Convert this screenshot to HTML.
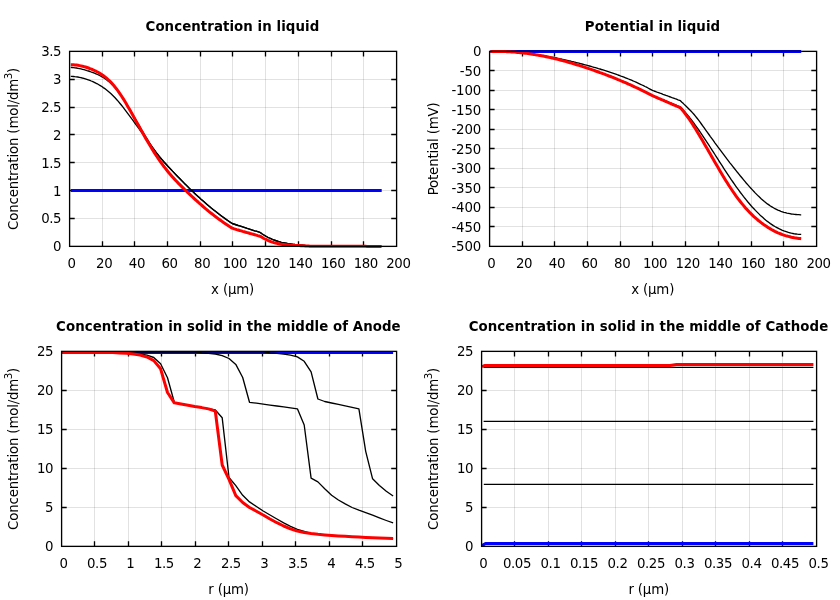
<!DOCTYPE html>
<html><head><meta charset="utf-8"><title>Battery simulation plots</title>
<style>
html,body{margin:0;padding:0;background:#fff;}
svg{display:block;}
text{font-family:"DejaVu Sans","Liberation Sans",sans-serif;font-size:13.33px;fill:#000;}
.t{letter-spacing:-0.4px;}
.n{letter-spacing:-0.15px;}
.l{letter-spacing:-0.16px;}
.b{font-weight:bold;letter-spacing:0.075px;}
</style></head><body>
<svg width="840" height="600" viewBox="0 0 840 600">
<rect x="0" y="0" width="840" height="600" fill="#fff"/>
<path d="M102.5 51.4 V246.4 M134.5 51.4 V246.4 M167.5 51.4 V246.4 M200.5 51.4 V246.4 M232.5 51.4 V246.4 M265.5 51.4 V246.4 M298.5 51.4 V246.4 M331.5 51.4 V246.4 M363.5 51.4 V246.4" stroke="rgba(38,38,38,0.135)" stroke-width="1" fill="none"/>
<path d="M69.5 218.5 H396.4 M69.5 190.5 H396.4 M69.5 162.5 H396.4 M69.5 134.5 H396.4 M69.5 107.5 H396.4 M69.5 79.5 H396.4" stroke="rgba(38,38,38,0.135)" stroke-width="1" fill="none"/>
<path d="M102.5 246.4 v-5.2 M102.5 51.4 v5.2 M134.5 246.4 v-5.2 M134.5 51.4 v5.2 M167.5 246.4 v-5.2 M167.5 51.4 v5.2 M200.5 246.4 v-5.2 M200.5 51.4 v5.2 M232.5 246.4 v-5.2 M232.5 51.4 v5.2 M265.5 246.4 v-5.2 M265.5 51.4 v5.2 M298.5 246.4 v-5.2 M298.5 51.4 v5.2 M331.5 246.4 v-5.2 M331.5 51.4 v5.2 M363.5 246.4 v-5.2 M363.5 51.4 v5.2 M69.5 218.5 h5.2 M396.4 218.5 h-5.2 M69.5 190.5 h5.2 M396.4 190.5 h-5.2 M69.5 162.5 h5.2 M396.4 162.5 h-5.2 M69.5 134.5 h5.2 M396.4 134.5 h-5.2 M69.5 107.5 h5.2 M396.4 107.5 h-5.2 M69.5 79.5 h5.2 M396.4 79.5 h-5.2" stroke="#000" stroke-width="1.33" fill="none"/>
<path d="M70.8 190.4 L381.7 190.4" stroke="#0000ff" stroke-width="3" fill="none" stroke-linejoin="round"/>
<path d="M70.8 76.4 L71.8 76.4 L73.3 76.5 L74.8 76.7 L76.3 76.8 L77.8 77.0 L79.3 77.3 L80.8 77.6 L82.3 78.0 L83.8 78.3 L85.3 78.8 L86.8 79.3 L88.3 79.8 L89.8 80.3 L91.3 81.0 L92.8 81.6 L94.3 82.3 L95.8 83.1 L97.3 83.8 L98.8 84.7 L100.3 85.6 L101.8 86.5 L103.3 87.6 L104.8 88.6 L106.3 89.8 L107.8 91.0 L109.3 92.2 L110.8 93.6 L112.3 95.0 L113.8 96.5 L115.3 98.0 L116.8 99.7 L118.3 101.4 L119.8 103.2 L121.3 105.0 L122.8 106.9 L124.3 108.8 L125.8 110.8 L127.3 112.8 L128.8 114.8 L130.3 116.8 L131.8 118.9 L133.3 120.9 L134.8 123.0 L136.3 125.1 L137.8 127.2 L139.3 129.2 L140.8 131.3 L142.3 133.4 L143.8 135.5 L145.3 137.6 L146.8 139.7 L148.3 141.8 L149.8 143.9 L151.3 146.0 L152.8 148.0 L154.3 150.0 L155.8 151.9 L157.3 153.8 L158.8 155.6 L160.3 157.4 L161.8 159.2 L163.3 160.9 L164.8 162.6 L166.3 164.3 L167.8 166.0 L169.3 167.6 L170.8 169.3 L172.3 170.9 L173.8 172.5 L175.3 174.1 L176.8 175.7 L178.3 177.3 L179.8 178.8 L181.3 180.3 L182.8 181.8 L184.3 183.4 L185.8 184.8 L187.3 186.3 L188.8 187.8 L190.3 189.2 L191.8 190.7 L193.3 192.1 L194.8 193.5 L196.3 194.9 L197.8 196.2 L199.3 197.6 L200.8 199.0 L202.3 200.3 L203.8 201.6 L205.3 202.9 L206.8 204.2 L208.3 205.5 L209.8 206.7 L211.3 208.0 L212.8 209.2 L214.3 210.4 L215.8 211.6 L217.3 212.8 L218.8 213.9 L220.3 215.1 L221.8 216.2 L223.3 217.3 L224.8 218.4 L226.3 219.5 L227.8 220.5 L229.3 221.6 L230.8 222.6 L232.2 223.5 L233.7 224.0 L235.2 224.5 L236.7 225.0 L238.2 225.5 L239.7 225.9 L241.2 226.4 L242.7 226.9 L244.2 227.4 L245.7 227.9 L247.2 228.4 L248.7 228.8 L250.2 229.3 L251.7 229.8 L253.2 230.3 L254.7 230.8 L256.2 231.2 L257.7 231.7 L259.2 232.2 L260.4 232.6 L261.9 233.7 L263.4 234.7 L264.9 235.6 L266.4 236.5 L267.9 237.3 L269.4 238.0 L270.9 238.7 L272.4 239.4 L273.9 240.0 L275.4 240.5 L276.9 241.0 L278.4 241.5 L279.9 241.9 L281.4 242.3 L282.9 242.6 L284.4 242.9 L285.9 243.2 L287.4 243.5 L288.9 243.7 L290.4 243.9 L291.9 244.1 L293.4 244.3 L294.9 244.5 L296.4 244.6 L297.9 244.8 L299.4 244.9 L300.9 245.1 L302.4 245.2 L303.9 245.3 L305.4 245.5 L306.9 245.6 L308.4 245.8 L309.9 245.9 L310.0 245.9 L311.5 245.9 L313.0 245.9 L314.5 246.0 L316.0 246.0 L317.5 246.0 L319.0 246.0 L320.5 246.0 L322.0 246.0 L323.5 246.0 L325.0 246.0 L326.5 246.0 L328.0 246.0 L329.5 246.1 L331.0 246.1 L332.5 246.1 L334.0 246.1 L335.5 246.1 L337.0 246.1 L338.5 246.1 L340.0 246.1 L341.5 246.1 L343.0 246.1 L344.5 246.2 L346.0 246.2 L347.5 246.2 L349.0 246.2 L350.5 246.2 L352.0 246.2 L353.5 246.2 L355.0 246.2 L356.5 246.2 L358.0 246.2 L359.5 246.3 L361.0 246.3 L362.5 246.3 L364.0 246.3 L365.5 246.3 L367.0 246.3 L368.5 246.3 L370.0 246.3 L371.5 246.3 L373.0 246.3 L374.5 246.4 L376.0 246.4 L377.5 246.4 L379.0 246.4 L380.5 246.4 L381.5 246.4" stroke="#000000" stroke-width="1.33" fill="none" stroke-linejoin="round"/>
<path d="M70.8 67.4 L72.0 67.5 L73.5 67.6 L75.0 67.8 L76.5 68.0 L78.0 68.3 L79.5 68.6 L81.0 68.9 L82.5 69.3 L84.0 69.7 L85.5 70.1 L87.0 70.6 L88.5 71.0 L90.0 71.5 L91.5 72.1 L93.0 72.6 L94.5 73.2 L96.0 73.8 L97.5 74.5 L99.0 75.2 L100.5 76.0 L102.0 76.8 L103.5 77.7 L105.0 78.7 L106.5 79.7 L108.0 80.9 L109.5 82.1 L111.0 83.5 L112.5 84.9 L114.0 86.5 L115.5 88.2 L117.0 90.0 L118.5 92.0 L120.0 94.0 L121.5 96.2 L123.0 98.4 L124.5 100.8 L126.0 103.1 L127.5 105.6 L129.0 108.1 L130.5 110.7 L132.0 113.2 L133.5 115.8 L135.0 118.4 L136.5 121.0 L138.0 123.6 L139.5 126.2 L141.0 128.8 L142.5 131.3 L144.0 133.8 L145.5 136.3 L147.0 138.7 L148.5 141.1 L150.0 143.5 L151.5 145.8 L153.0 148.0 L154.5 150.2 L156.0 152.3 L157.5 154.3 L159.0 156.3 L160.5 158.2 L162.0 159.9 L163.5 161.7 L165.0 163.3 L166.5 164.9 L168.0 166.5 L169.5 168.0 L171.0 169.5 L172.5 171.1 L174.0 172.6 L175.5 174.2 L177.0 175.7 L178.5 177.3 L180.0 178.8 L181.5 180.4 L183.0 181.9 L184.5 183.4 L186.0 184.9 L187.5 186.4 L189.0 187.9 L190.5 189.4 L192.0 190.8 L193.5 192.2 L195.0 193.7 L196.5 195.1 L198.0 196.4 L199.5 197.8 L201.0 199.2 L202.5 200.5 L204.0 201.8 L205.5 203.1 L207.0 204.4 L208.5 205.7 L210.0 206.9 L211.5 208.2 L213.0 209.4 L214.5 210.6 L216.0 211.8 L217.5 212.9 L219.0 214.1 L220.5 215.2 L222.0 216.4 L223.5 217.5 L225.0 218.6 L226.5 219.6 L228.0 220.7 L229.5 221.7 L231.0 222.7 L232.2 223.5 L233.7 224.0 L235.2 224.5 L236.7 225.0 L238.2 225.5 L239.7 225.9 L241.2 226.4 L242.7 226.9 L244.2 227.4 L245.7 227.9 L247.2 228.4 L248.7 228.8 L250.2 229.3 L251.7 229.8 L253.2 230.3 L254.7 230.8 L256.2 231.2 L257.7 231.7 L259.2 232.2 L260.4 232.6 L261.9 233.7 L263.4 234.7 L264.9 235.6 L266.4 236.5 L267.9 237.3 L269.4 238.0 L270.9 238.7 L272.4 239.4 L273.9 240.0 L275.4 240.5 L276.9 241.0 L278.4 241.5 L279.9 241.9 L281.4 242.3 L282.9 242.6 L284.4 242.9 L285.9 243.2 L287.4 243.5 L288.9 243.7 L290.4 243.9 L291.9 244.1 L293.4 244.3 L294.9 244.5 L296.4 244.6 L297.9 244.8 L299.4 244.9 L300.9 245.1 L302.4 245.2 L303.9 245.3 L305.4 245.5 L306.9 245.6 L308.4 245.8 L309.9 245.9 L310.0 245.9 L311.5 245.9 L313.0 245.9 L314.5 246.0 L316.0 246.0 L317.5 246.0 L319.0 246.0 L320.5 246.0 L322.0 246.0 L323.5 246.0 L325.0 246.0 L326.5 246.0 L328.0 246.0 L329.5 246.1 L331.0 246.1 L332.5 246.1 L334.0 246.1 L335.5 246.1 L337.0 246.1 L338.5 246.1 L340.0 246.1 L341.5 246.1 L343.0 246.1 L344.5 246.2 L346.0 246.2 L347.5 246.2 L349.0 246.2 L350.5 246.2 L352.0 246.2 L353.5 246.2 L355.0 246.2 L356.5 246.2 L358.0 246.2 L359.5 246.3 L361.0 246.3 L362.5 246.3 L364.0 246.3 L365.5 246.3 L367.0 246.3 L368.5 246.3 L370.0 246.3 L371.5 246.3 L373.0 246.3 L374.5 246.4 L376.0 246.4 L377.5 246.4 L379.0 246.4 L380.5 246.4 L381.5 246.4" stroke="#000000" stroke-width="1.33" fill="none" stroke-linejoin="round"/>
<path d="M70.8 64.7 L72.0 64.7 L73.5 64.8 L75.0 64.9 L76.5 65.1 L78.0 65.3 L79.5 65.6 L81.0 65.9 L82.5 66.2 L84.0 66.6 L85.5 67.0 L87.0 67.5 L88.5 68.0 L90.0 68.6 L91.5 69.1 L93.0 69.8 L94.5 70.5 L96.0 71.2 L97.5 72.0 L99.0 72.8 L100.5 73.7 L102.0 74.7 L103.5 75.8 L105.0 76.9 L106.5 78.1 L108.0 79.5 L109.5 80.9 L111.0 82.4 L112.5 84.0 L114.0 85.7 L115.5 87.6 L117.0 89.5 L118.5 91.6 L120.0 93.8 L121.5 96.0 L123.0 98.4 L124.5 100.8 L126.0 103.3 L127.5 105.9 L129.0 108.5 L130.5 111.1 L132.0 113.8 L133.5 116.5 L135.0 119.2 L136.5 121.9 L138.0 124.6 L139.5 127.3 L141.0 129.9 L142.5 132.6 L144.0 135.2 L145.5 137.9 L147.0 140.5 L148.5 143.0 L150.0 145.5 L151.5 148.0 L153.0 150.5 L154.5 152.9 L156.0 155.2 L157.5 157.5 L159.0 159.7 L160.5 161.8 L162.0 163.9 L163.5 166.0 L165.0 167.9 L166.5 169.8 L168.0 171.7 L169.5 173.5 L171.0 175.2 L172.5 176.9 L174.0 178.6 L175.5 180.2 L177.0 181.8 L178.5 183.4 L180.0 184.9 L181.5 186.4 L183.0 187.9 L184.5 189.4 L186.0 190.8 L187.5 192.3 L189.0 193.7 L190.5 195.1 L192.0 196.5 L193.5 197.9 L195.0 199.3 L196.5 200.7 L198.0 202.0 L199.5 203.4 L201.0 204.7 L202.5 206.0 L204.0 207.3 L205.5 208.6 L207.0 209.8 L208.5 211.1 L210.0 212.3 L211.5 213.5 L213.0 214.7 L214.5 215.9 L216.0 217.0 L217.5 218.1 L219.0 219.2 L220.5 220.3 L222.0 221.4 L223.5 222.5 L225.0 223.5 L226.5 224.5 L228.0 225.5 L229.5 226.5 L231.0 227.4 L232.2 228.2 L233.7 228.7 L235.2 229.1 L236.7 229.6 L238.2 230.0 L239.7 230.5 L241.2 230.9 L242.7 231.4 L244.2 231.8 L245.7 232.2 L247.2 232.6 L248.7 233.0 L250.2 233.5 L251.7 233.9 L253.2 234.3 L254.7 234.7 L256.2 235.1 L257.7 235.6 L259.2 236.0 L260.4 236.4 L261.9 237.3 L263.4 238.2 L264.9 239.0 L266.4 239.7 L267.9 240.4 L269.4 241.0 L270.9 241.6 L272.4 242.1 L273.9 242.6 L275.4 243.0 L276.9 243.3 L278.4 243.7 L279.9 244.0 L281.4 244.2 L282.9 244.5 L284.4 244.7 L285.9 244.8 L287.4 245.0 L288.9 245.1 L290.4 245.2 L291.9 245.3 L293.4 245.4 L294.9 245.4 L296.4 245.5 L297.9 245.6 L299.4 245.6 L300.9 245.7 L302.4 245.7 L303.9 245.8 L305.4 245.9 L306.9 245.9 L308.4 246.0 L309.9 246.2 L310.0 246.2 L311.5 246.2 L313.0 246.2 L314.5 246.2 L316.0 246.2 L317.5 246.2 L319.0 246.2 L320.5 246.2 L322.0 246.2 L323.5 246.2 L325.0 246.2 L326.5 246.2 L328.0 246.2 L329.5 246.2 L331.0 246.2 L332.5 246.2 L334.0 246.2 L335.5 246.2 L337.0 246.3 L338.5 246.3 L340.0 246.3 L341.5 246.3 L343.0 246.3 L344.5 246.3 L346.0 246.3 L347.5 246.3 L349.0 246.3 L350.5 246.3 L352.0 246.3 L353.5 246.3 L355.0 246.3 L356.5 246.3 L358.0 246.3 L359.5 246.3 L361.0 246.3 L362.5 246.3 L364.0 246.3 L365.5 246.3 L367.0 246.4 L368.5 246.4 L370.0 246.4 L371.5 246.4 L373.0 246.4 L374.5 246.4 L376.0 246.4 L377.5 246.4 L379.0 246.4 L380.5 246.4 L381.5 246.4" stroke="#ff0000" stroke-width="3" fill="none" stroke-linejoin="round"/>
<rect x="69.60" y="51.37" width="327.00" height="195.00" stroke="#000" stroke-width="1.33" fill="none"/>
<text class="t" x="71.5" y="267.7" text-anchor="middle">0</text>
<text class="t" x="104.2" y="267.7" text-anchor="middle">20</text>
<text class="t" x="136.9" y="267.7" text-anchor="middle">40</text>
<text class="t" x="169.6" y="267.7" text-anchor="middle">60</text>
<text class="t" x="202.2" y="267.7" text-anchor="middle">80</text>
<text class="t" x="234.9" y="267.7" text-anchor="middle">100</text>
<text class="t" x="267.6" y="267.7" text-anchor="middle">120</text>
<text class="t" x="300.4" y="267.7" text-anchor="middle">140</text>
<text class="t" x="333.1" y="267.7" text-anchor="middle">160</text>
<text class="t" x="365.8" y="267.7" text-anchor="middle">180</text>
<text class="t" x="398.4" y="267.7" text-anchor="middle">200</text>
<text class="t" x="61.2" y="251.3" text-anchor="end">0</text>
<text class="t" x="61.2" y="223.4" text-anchor="end">0.5</text>
<text class="t" x="61.2" y="195.6" text-anchor="end">1</text>
<text class="t" x="61.2" y="167.7" text-anchor="end">1.5</text>
<text class="t" x="61.2" y="139.8" text-anchor="end">2</text>
<text class="t" x="61.2" y="112.0" text-anchor="end">2.5</text>
<text class="t" x="61.2" y="84.1" text-anchor="end">3</text>
<text class="t" x="61.2" y="56.3" text-anchor="end">3.5</text>
<text x="232.4" y="30.9" text-anchor="middle" class="b">Concentration in liquid</text>
<text class="l" x="232.6" y="293.5" text-anchor="middle">x (µm)</text>
<text class="l" transform="translate(17.7 148.9) rotate(-90)" text-anchor="middle">Concentration (mol/dm<tspan dx="-0.5" dy="-5.8" font-size="10.3">3</tspan><tspan dy="5.8">)</tspan></text>
<path d="M522.5 51.4 V246.4 M554.5 51.4 V246.4 M587.5 51.4 V246.4 M620.5 51.4 V246.4 M652.5 51.4 V246.4 M685.5 51.4 V246.4 M718.5 51.4 V246.4 M751.5 51.4 V246.4 M783.5 51.4 V246.4" stroke="rgba(38,38,38,0.135)" stroke-width="1" fill="none"/>
<path d="M489.4 70.5 H816.5 M489.4 90.5 H816.5 M489.4 109.5 H816.5 M489.4 129.5 H816.5 M489.4 148.5 H816.5 M489.4 168.5 H816.5 M489.4 187.5 H816.5 M489.4 207.5 H816.5 M489.4 226.5 H816.5" stroke="rgba(38,38,38,0.135)" stroke-width="1" fill="none"/>
<path d="M522.5 246.4 v-5.2 M522.5 51.4 v5.2 M554.5 246.4 v-5.2 M554.5 51.4 v5.2 M587.5 246.4 v-5.2 M587.5 51.4 v5.2 M620.5 246.4 v-5.2 M620.5 51.4 v5.2 M652.5 246.4 v-5.2 M652.5 51.4 v5.2 M685.5 246.4 v-5.2 M685.5 51.4 v5.2 M718.5 246.4 v-5.2 M718.5 51.4 v5.2 M751.5 246.4 v-5.2 M751.5 51.4 v5.2 M783.5 246.4 v-5.2 M783.5 51.4 v5.2 M489.4 70.5 h5.2 M816.5 70.5 h-5.2 M489.4 90.5 h5.2 M816.5 90.5 h-5.2 M489.4 109.5 h5.2 M816.5 109.5 h-5.2 M489.4 129.5 h5.2 M816.5 129.5 h-5.2 M489.4 148.5 h5.2 M816.5 148.5 h-5.2 M489.4 168.5 h5.2 M816.5 168.5 h-5.2 M489.4 187.5 h5.2 M816.5 187.5 h-5.2 M489.4 207.5 h5.2 M816.5 207.5 h-5.2 M489.4 226.5 h5.2 M816.5 226.5 h-5.2" stroke="#000" stroke-width="1.33" fill="none"/>
<path d="M490.5 51.5 L801.2 51.5" stroke="#0000ff" stroke-width="3" fill="none" stroke-linejoin="round"/>
<path d="M490.5 51.6 L492.0 51.6 L493.5 51.5 L495.0 51.5 L496.5 51.5 L498.0 51.5 L499.5 51.5 L501.0 51.5 L502.5 51.6 L504.0 51.6 L505.5 51.6 L507.0 51.7 L508.5 51.8 L510.0 51.8 L511.5 51.9 L513.0 52.0 L514.5 52.1 L516.0 52.2 L517.5 52.3 L519.0 52.5 L520.5 52.6 L522.0 52.7 L523.5 52.9 L525.0 53.0 L526.5 53.2 L528.0 53.4 L529.5 53.6 L531.0 53.8 L532.5 53.9 L534.0 54.2 L535.5 54.4 L537.0 54.6 L538.5 54.8 L540.0 55.0 L541.5 55.3 L543.0 55.5 L544.5 55.8 L546.0 56.0 L547.5 56.3 L549.0 56.6 L550.5 56.9 L552.0 57.1 L553.5 57.4 L555.0 57.7 L556.5 58.0 L558.0 58.3 L559.5 58.7 L561.0 59.0 L562.5 59.3 L564.0 59.6 L565.5 60.0 L567.0 60.3 L568.5 60.7 L570.0 61.0 L571.5 61.4 L573.0 61.7 L574.5 62.1 L576.0 62.5 L577.5 62.8 L579.0 63.2 L580.5 63.6 L582.0 64.0 L583.5 64.4 L585.0 64.8 L586.5 65.2 L588.0 65.6 L589.5 66.0 L591.0 66.4 L592.5 66.9 L594.0 67.3 L595.5 67.7 L597.0 68.1 L598.5 68.6 L600.0 69.0 L601.5 69.5 L603.0 69.9 L604.5 70.4 L606.0 70.9 L607.5 71.4 L609.0 71.9 L610.5 72.4 L612.0 72.9 L613.5 73.4 L615.0 73.9 L616.5 74.4 L618.0 75.0 L619.5 75.5 L621.0 76.1 L622.5 76.6 L624.0 77.2 L625.5 77.8 L627.0 78.4 L628.5 79.0 L630.0 79.6 L631.5 80.2 L633.0 80.9 L634.5 81.5 L636.0 82.2 L637.5 82.9 L639.0 83.6 L640.5 84.3 L642.0 85.0 L643.5 85.7 L645.0 86.5 L646.5 87.2 L648.0 88.0 L649.5 88.8 L651.0 89.6 L652.5 90.4 L654.0 91.0 L655.5 91.5 L657.0 92.1 L658.5 92.6 L660.0 93.2 L661.5 93.7 L663.0 94.3 L664.5 94.8 L666.0 95.4 L667.5 95.9 L669.0 96.5 L670.5 97.0 L672.0 97.6 L673.5 98.1 L675.0 98.7 L676.5 99.2 L678.0 99.8 L679.5 100.3 L680.4 100.7 L681.9 102.2 L683.4 103.6 L684.9 105.1 L686.4 106.5 L687.9 108.0 L689.4 109.5 L690.9 111.0 L692.4 112.6 L693.9 114.3 L695.4 116.1 L696.9 118.0 L698.4 119.9 L699.9 121.9 L701.4 124.0 L702.9 126.1 L704.4 128.2 L705.9 130.3 L707.4 132.4 L708.9 134.5 L710.4 136.6 L711.9 138.6 L713.4 140.7 L714.9 142.8 L716.4 144.8 L717.9 146.9 L719.4 148.9 L720.9 150.9 L722.4 152.9 L723.9 154.9 L725.4 156.9 L726.9 158.9 L728.4 160.8 L729.9 162.8 L731.4 164.7 L732.9 166.6 L734.4 168.5 L735.9 170.4 L737.4 172.3 L738.9 174.1 L740.4 176.0 L741.9 177.8 L743.4 179.6 L744.9 181.4 L746.4 183.2 L747.9 184.9 L749.4 186.6 L750.9 188.3 L752.4 189.9 L753.9 191.5 L755.4 193.1 L756.9 194.6 L758.4 196.1 L759.9 197.5 L761.4 198.9 L762.9 200.2 L764.4 201.5 L765.9 202.7 L767.4 203.9 L768.9 204.9 L770.4 206.0 L771.9 206.9 L773.4 207.8 L774.9 208.7 L776.4 209.4 L777.9 210.1 L779.4 210.7 L780.9 211.3 L782.4 211.8 L783.9 212.3 L785.4 212.7 L786.9 213.1 L788.4 213.4 L789.9 213.7 L791.4 214.0 L792.9 214.2 L794.4 214.4 L795.9 214.5 L797.4 214.6 L798.9 214.7 L800.4 214.8 L801.2 214.8" stroke="#000000" stroke-width="1.33" fill="none" stroke-linejoin="round"/>
<path d="M490.5 51.6 L492.0 51.5 L493.5 51.5 L495.0 51.5 L496.5 51.5 L498.0 51.4 L499.5 51.4 L501.0 51.5 L502.5 51.5 L504.0 51.5 L505.5 51.6 L507.0 51.6 L508.5 51.7 L510.0 51.8 L511.5 51.9 L513.0 52.0 L514.5 52.1 L516.0 52.2 L517.5 52.3 L519.0 52.5 L520.5 52.6 L522.0 52.8 L523.5 53.0 L525.0 53.2 L526.5 53.4 L528.0 53.6 L529.5 53.8 L531.0 54.0 L532.5 54.2 L534.0 54.5 L535.5 54.7 L537.0 55.0 L538.5 55.2 L540.0 55.5 L541.5 55.8 L543.0 56.1 L544.5 56.4 L546.0 56.7 L547.5 57.0 L549.0 57.3 L550.5 57.7 L552.0 58.0 L553.5 58.4 L555.0 58.7 L556.5 59.1 L558.0 59.5 L559.5 59.8 L561.0 60.2 L562.5 60.6 L564.0 61.0 L565.5 61.4 L567.0 61.8 L568.5 62.3 L570.0 62.7 L571.5 63.1 L573.0 63.6 L574.5 64.0 L576.0 64.5 L577.5 64.9 L579.0 65.4 L580.5 65.9 L582.0 66.4 L583.5 66.9 L585.0 67.3 L586.5 67.8 L588.0 68.3 L589.5 68.9 L591.0 69.4 L592.5 69.9 L594.0 70.4 L595.5 70.9 L597.0 71.5 L598.5 72.0 L600.0 72.6 L601.5 73.1 L603.0 73.7 L604.5 74.2 L606.0 74.8 L607.5 75.4 L609.0 76.0 L610.5 76.6 L612.0 77.2 L613.5 77.8 L615.0 78.4 L616.5 79.0 L618.0 79.6 L619.5 80.2 L621.0 80.9 L622.5 81.5 L624.0 82.1 L625.5 82.8 L627.0 83.4 L628.5 84.1 L630.0 84.8 L631.5 85.4 L633.0 86.1 L634.5 86.8 L636.0 87.5 L637.5 88.2 L639.0 88.9 L640.5 89.6 L642.0 90.3 L643.5 91.0 L645.0 91.8 L646.5 92.5 L648.0 93.2 L649.5 94.0 L651.0 94.7 L652.5 95.5 L654.0 96.1 L655.5 96.7 L657.0 97.3 L658.5 98.0 L660.0 98.6 L661.5 99.2 L663.0 99.8 L664.5 100.4 L666.0 101.0 L667.5 101.6 L669.0 102.3 L670.5 102.9 L672.0 103.5 L673.5 104.1 L675.0 104.7 L676.5 105.3 L678.0 106.0 L679.5 106.6 L680.4 106.9 L681.9 108.5 L683.4 110.2 L684.9 111.9 L686.4 113.6 L687.9 115.5 L689.4 117.3 L690.9 119.2 L692.4 121.2 L693.9 123.2 L695.4 125.3 L696.9 127.4 L698.4 129.5 L699.9 131.7 L701.4 133.9 L702.9 136.1 L704.4 138.4 L705.9 140.6 L707.4 142.9 L708.9 145.2 L710.4 147.5 L711.9 149.9 L713.4 152.2 L714.9 154.5 L716.4 156.9 L717.9 159.2 L719.4 161.6 L720.9 163.9 L722.4 166.2 L723.9 168.6 L725.4 170.9 L726.9 173.1 L728.4 175.4 L729.9 177.6 L731.4 179.9 L732.9 182.0 L734.4 184.2 L735.9 186.3 L737.4 188.4 L738.9 190.4 L740.4 192.5 L741.9 194.4 L743.4 196.4 L744.9 198.3 L746.4 200.1 L747.9 202.0 L749.4 203.7 L750.9 205.5 L752.4 207.2 L753.9 208.8 L755.4 210.4 L756.9 211.9 L758.4 213.4 L759.9 214.9 L761.4 216.3 L762.9 217.6 L764.4 218.9 L765.9 220.2 L767.4 221.4 L768.9 222.5 L770.4 223.6 L771.9 224.6 L773.4 225.6 L774.9 226.5 L776.4 227.3 L777.9 228.1 L779.4 228.9 L780.9 229.6 L782.4 230.3 L783.9 230.9 L785.4 231.4 L786.9 231.9 L788.4 232.4 L789.9 232.8 L791.4 233.2 L792.9 233.5 L794.4 233.8 L795.9 234.0 L797.4 234.2 L798.9 234.3 L800.4 234.4 L801.2 234.4" stroke="#000000" stroke-width="1.33" fill="none" stroke-linejoin="round"/>
<path d="M490.5 51.6 L492.0 51.6 L493.5 51.5 L495.0 51.5 L496.5 51.5 L498.0 51.5 L499.5 51.5 L501.0 51.5 L502.5 51.5 L504.0 51.6 L505.5 51.6 L507.0 51.7 L508.5 51.8 L510.0 51.8 L511.5 51.9 L513.0 52.0 L514.5 52.1 L516.0 52.2 L517.5 52.4 L519.0 52.5 L520.5 52.7 L522.0 52.8 L523.5 53.0 L525.0 53.2 L526.5 53.3 L528.0 53.5 L529.5 53.8 L531.0 54.0 L532.5 54.2 L534.0 54.4 L535.5 54.7 L537.0 54.9 L538.5 55.2 L540.0 55.5 L541.5 55.8 L543.0 56.0 L544.5 56.3 L546.0 56.7 L547.5 57.0 L549.0 57.3 L550.5 57.6 L552.0 58.0 L553.5 58.3 L555.0 58.7 L556.5 59.1 L558.0 59.4 L559.5 59.8 L561.0 60.2 L562.5 60.6 L564.0 61.0 L565.5 61.4 L567.0 61.8 L568.5 62.3 L570.0 62.7 L571.5 63.1 L573.0 63.6 L574.5 64.0 L576.0 64.5 L577.5 65.0 L579.0 65.4 L580.5 65.9 L582.0 66.4 L583.5 66.9 L585.0 67.4 L586.5 67.9 L588.0 68.4 L589.5 68.9 L591.0 69.4 L592.5 69.9 L594.0 70.4 L595.5 71.0 L597.0 71.5 L598.5 72.0 L600.0 72.6 L601.5 73.1 L603.0 73.7 L604.5 74.2 L606.0 74.8 L607.5 75.4 L609.0 76.0 L610.5 76.5 L612.0 77.1 L613.5 77.7 L615.0 78.3 L616.5 78.9 L618.0 79.6 L619.5 80.2 L621.0 80.8 L622.5 81.5 L624.0 82.1 L625.5 82.7 L627.0 83.4 L628.5 84.1 L630.0 84.7 L631.5 85.4 L633.0 86.1 L634.5 86.8 L636.0 87.5 L637.5 88.2 L639.0 88.9 L640.5 89.6 L642.0 90.4 L643.5 91.1 L645.0 91.8 L646.5 92.6 L648.0 93.4 L649.5 94.1 L651.0 94.9 L652.5 95.7 L654.0 96.3 L655.5 97.0 L657.0 97.6 L658.5 98.3 L660.0 98.9 L661.5 99.6 L663.0 100.2 L664.5 100.9 L666.0 101.5 L667.5 102.2 L669.0 102.8 L670.5 103.5 L672.0 104.1 L673.5 104.8 L675.0 105.4 L676.5 106.1 L678.0 106.7 L679.5 107.4 L680.4 107.8 L681.9 109.5 L683.4 111.4 L684.9 113.3 L686.4 115.3 L687.9 117.4 L689.4 119.5 L690.9 121.7 L692.4 124.0 L693.9 126.4 L695.4 128.7 L696.9 131.2 L698.4 133.7 L699.9 136.2 L701.4 138.7 L702.9 141.3 L704.4 143.9 L705.9 146.5 L707.4 149.1 L708.9 151.7 L710.4 154.3 L711.9 157.0 L713.4 159.6 L714.9 162.2 L716.4 164.8 L717.9 167.3 L719.4 169.9 L720.9 172.4 L722.4 174.9 L723.9 177.4 L725.4 179.9 L726.9 182.3 L728.4 184.7 L729.9 187.0 L731.4 189.3 L732.9 191.5 L734.4 193.7 L735.9 195.8 L737.4 197.8 L738.9 199.8 L740.4 201.7 L741.9 203.6 L743.4 205.4 L744.9 207.2 L746.4 208.9 L747.9 210.5 L749.4 212.1 L750.9 213.6 L752.4 215.1 L753.9 216.6 L755.4 217.9 L756.9 219.2 L758.4 220.5 L759.9 221.7 L761.4 222.9 L762.9 224.0 L764.4 225.1 L765.9 226.1 L767.4 227.1 L768.9 228.0 L770.4 228.9 L771.9 229.8 L773.4 230.6 L774.9 231.4 L776.4 232.1 L777.9 232.8 L779.4 233.4 L780.9 234.0 L782.4 234.6 L783.9 235.1 L785.4 235.6 L786.9 236.0 L788.4 236.4 L789.9 236.8 L791.4 237.2 L792.9 237.5 L794.4 237.8 L795.9 238.0 L797.4 238.2 L798.9 238.4 L800.4 238.6 L801.2 238.7" stroke="#ff0000" stroke-width="3" fill="none" stroke-linejoin="round"/>
<rect x="489.60" y="51.37" width="327.00" height="195.00" stroke="#000" stroke-width="1.33" fill="none"/>
<text class="t" x="491.4" y="267.7" text-anchor="middle">0</text>
<text class="t" x="524.1" y="267.7" text-anchor="middle">20</text>
<text class="t" x="556.9" y="267.7" text-anchor="middle">40</text>
<text class="t" x="589.5" y="267.7" text-anchor="middle">60</text>
<text class="t" x="622.2" y="267.7" text-anchor="middle">80</text>
<text class="t" x="655.0" y="267.7" text-anchor="middle">100</text>
<text class="t" x="687.7" y="267.7" text-anchor="middle">120</text>
<text class="t" x="720.4" y="267.7" text-anchor="middle">140</text>
<text class="t" x="753.0" y="267.7" text-anchor="middle">160</text>
<text class="t" x="785.8" y="267.7" text-anchor="middle">180</text>
<text class="t" x="818.5" y="267.7" text-anchor="middle">200</text>
<text class="t" x="481.1" y="56.3" text-anchor="end">0</text>
<text class="n" x="481.1" y="75.8" text-anchor="end">-50</text>
<text class="n" x="481.1" y="95.3" text-anchor="end">-100</text>
<text class="n" x="481.1" y="114.8" text-anchor="end">-150</text>
<text class="n" x="481.1" y="134.3" text-anchor="end">-200</text>
<text class="n" x="481.1" y="153.8" text-anchor="end">-250</text>
<text class="n" x="481.1" y="173.3" text-anchor="end">-300</text>
<text class="n" x="481.1" y="192.8" text-anchor="end">-350</text>
<text class="n" x="481.1" y="212.3" text-anchor="end">-400</text>
<text class="n" x="481.1" y="231.8" text-anchor="end">-450</text>
<text class="n" x="481.1" y="251.3" text-anchor="end">-500</text>
<text x="652.5" y="30.9" text-anchor="middle" class="b">Potential in liquid</text>
<text class="l" x="652.7" y="293.5" text-anchor="middle">x (µm)</text>
<text class="l" transform="translate(437.7 148.9) rotate(-90)" text-anchor="middle">Potential (mV)</text>
<path d="M94.5 351.4 V546.4 M128.5 351.4 V546.4 M161.5 351.4 V546.4 M195.5 351.4 V546.4 M228.5 351.4 V546.4 M262.5 351.4 V546.4 M295.5 351.4 V546.4 M329.5 351.4 V546.4 M362.5 351.4 V546.4" stroke="rgba(38,38,38,0.135)" stroke-width="1" fill="none"/>
<path d="M61.5 507.5 H396.4 M61.5 468.5 H396.4 M61.5 429.5 H396.4 M61.5 390.5 H396.4" stroke="rgba(38,38,38,0.135)" stroke-width="1" fill="none"/>
<path d="M94.5 546.4 v-5.2 M94.5 351.4 v5.2 M128.5 546.4 v-5.2 M128.5 351.4 v5.2 M161.5 546.4 v-5.2 M161.5 351.4 v5.2 M195.5 546.4 v-5.2 M195.5 351.4 v5.2 M228.5 546.4 v-5.2 M228.5 351.4 v5.2 M262.5 546.4 v-5.2 M262.5 351.4 v5.2 M295.5 546.4 v-5.2 M295.5 351.4 v5.2 M329.5 546.4 v-5.2 M329.5 351.4 v5.2 M362.5 546.4 v-5.2 M362.5 351.4 v5.2 M61.5 507.5 h5.2 M396.4 507.5 h-5.2 M61.5 468.5 h5.2 M396.4 468.5 h-5.2 M61.5 429.5 h5.2 M396.4 429.5 h-5.2 M61.5 390.5 h5.2 M396.4 390.5 h-5.2" stroke="#000" stroke-width="1.33" fill="none"/>
<path d="M62.2 352.5 L393.1 352.5" stroke="#0000ff" stroke-width="3" fill="none" stroke-linejoin="round"/>
<path d="M62.2 351.9 L64.9 351.9 L71.8 351.9 L78.6 351.9 L85.4 351.9 L92.3 351.9 L99.1 351.9 L105.9 351.9 L112.8 351.9 L119.6 351.9 L126.5 351.9 L133.3 351.9 L140.1 351.9 L147.0 351.9 L153.8 351.9 L160.6 351.9 L167.5 351.9 L174.3 351.9 L181.1 351.9 L188.0 351.9 L194.8 351.9 L201.7 351.9 L208.5 351.9 L215.3 351.9 L222.2 351.9 L229.0 351.9 L235.8 351.9 L242.7 351.9 L249.5 351.9 L256.4 351.9 L263.2 351.9 L270.0 352.8 L276.9 353.4 L283.7 354.1 L290.5 355.1 L297.4 356.9 L304.2 361.3 L311.1 371.9 L317.9 399.0 L324.7 401.5 L331.6 403.0 L338.4 404.4 L345.2 405.9 L352.1 407.3 L358.9 408.8 L365.7 451.3 L372.6 478.8 L379.4 485.5 L386.3 491.3 L393.1 496.0" stroke="#000000" stroke-width="1.33" fill="none" stroke-linejoin="round"/>
<path d="M62.2 351.9 L64.9 351.9 L71.8 351.9 L78.6 351.9 L85.4 351.9 L92.3 351.9 L99.1 351.9 L105.9 351.9 L112.8 351.9 L119.6 351.9 L126.5 351.9 L133.3 351.9 L140.1 351.9 L147.0 351.9 L153.8 351.9 L160.6 351.9 L167.5 351.9 L174.3 351.9 L181.1 351.9 L188.0 351.9 L194.8 351.9 L201.7 352.8 L208.5 353.3 L215.3 354.0 L222.2 355.6 L229.0 358.5 L235.8 364.4 L242.7 377.5 L249.5 402.3 L256.4 403.2 L263.2 404.1 L270.0 405.1 L276.9 406.0 L283.7 406.9 L290.5 407.9 L297.4 408.8 L304.2 425.0 L311.1 478.1 L317.9 481.9 L324.7 488.8 L331.6 495.3 L338.4 500.0 L345.2 503.9 L352.1 507.5 L358.9 510.2 L365.7 512.7 L372.6 515.2 L379.4 517.9 L386.3 520.5 L393.1 522.9" stroke="#000000" stroke-width="1.33" fill="none" stroke-linejoin="round"/>
<path d="M62.2 351.9 L64.9 351.9 L71.8 351.9 L78.6 351.9 L85.4 351.9 L92.3 351.9 L99.1 351.9 L105.9 351.9 L112.8 351.9 L119.6 351.9 L126.5 351.9 L133.3 353.0 L140.1 353.8 L147.0 355.2 L153.8 357.5 L160.6 363.8 L167.5 377.8 L174.3 402.3 L181.1 404.0 L188.0 405.2 L194.8 406.5 L201.7 407.6 L208.5 408.7 L215.3 410.0 L222.2 417.8 L229.0 477.5 L235.8 485.6 L242.7 495.3 L249.5 501.9 L256.4 506.5 L263.2 511.0 L270.0 515.0 L276.9 519.0 L283.7 522.8 L290.5 526.3 L297.4 529.4 L304.2 531.5 L311.1 533.5 L317.9 534.3 L324.7 534.9 L331.6 535.4 L338.4 535.9 L345.2 536.3 L352.1 536.7 L358.9 537.1 L365.7 537.4 L372.6 537.7 L379.4 537.9 L386.3 538.2 L393.1 538.4" stroke="#000000" stroke-width="1.33" fill="none" stroke-linejoin="round"/>
<path d="M62.2 352.5 L64.9 352.5 L71.8 352.5 L78.6 352.5 L85.4 352.5 L92.3 352.5 L99.1 352.5 L105.9 352.5 L112.8 352.6 L119.6 352.9 L126.5 353.3 L133.3 354.0 L140.1 355.1 L147.0 357.0 L153.8 360.6 L160.6 368.8 L167.5 392.5 L174.3 402.8 L181.1 404.0 L188.0 405.2 L194.8 406.5 L201.7 407.6 L208.5 408.9 L215.3 411.2 L222.2 465.0 L229.0 479.4 L235.8 495.6 L242.7 502.5 L249.5 507.5 L256.4 511.3 L263.2 515.0 L270.0 519.0 L276.9 522.7 L283.7 526.0 L290.5 528.9 L297.4 531.1 L304.2 532.5 L311.1 533.5 L317.9 534.3 L324.7 534.9 L331.6 535.4 L338.4 535.9 L345.2 536.3 L352.1 536.7 L358.9 537.1 L365.7 537.4 L372.6 537.7 L379.4 537.9 L386.3 538.2 L393.1 538.4" stroke="#ff0000" stroke-width="3" fill="none" stroke-linejoin="round"/>
<rect x="61.60" y="351.37" width="335.00" height="195.00" stroke="#000" stroke-width="1.33" fill="none"/>
<text class="t" x="63.5" y="567.7" text-anchor="middle">0</text>
<text class="t" x="97.0" y="567.7" text-anchor="middle">0.5</text>
<text class="t" x="130.4" y="567.7" text-anchor="middle">1</text>
<text class="t" x="163.9" y="567.7" text-anchor="middle">1.5</text>
<text class="t" x="197.4" y="567.7" text-anchor="middle">2</text>
<text class="t" x="230.9" y="567.7" text-anchor="middle">2.5</text>
<text class="t" x="264.4" y="567.7" text-anchor="middle">3</text>
<text class="t" x="297.9" y="567.7" text-anchor="middle">3.5</text>
<text class="t" x="331.4" y="567.7" text-anchor="middle">4</text>
<text class="t" x="364.9" y="567.7" text-anchor="middle">4.5</text>
<text class="t" x="398.4" y="567.7" text-anchor="middle">5</text>
<text class="t" x="53.2" y="551.3" text-anchor="end">0</text>
<text class="t" x="53.2" y="512.3" text-anchor="end">5</text>
<text class="t" x="53.2" y="473.3" text-anchor="end">10</text>
<text class="t" x="53.2" y="434.3" text-anchor="end">15</text>
<text class="t" x="53.2" y="395.3" text-anchor="end">20</text>
<text class="t" x="53.2" y="356.3" text-anchor="end">25</text>
<text x="228.4" y="330.9" text-anchor="middle" class="b">Concentration in solid in the middle of Anode</text>
<text class="l" x="228.6" y="593.5" text-anchor="middle">r (µm)</text>
<text class="l" transform="translate(17.7 448.9) rotate(-90)" text-anchor="middle">Concentration (mol/dm<tspan dx="-0.5" dy="-5.8" font-size="10.3">3</tspan><tspan dy="5.8">)</tspan></text>
<path d="M514.5 351.4 V546.4 M548.5 351.4 V546.4 M581.5 351.4 V546.4 M615.5 351.4 V546.4 M648.5 351.4 V546.4 M682.5 351.4 V546.4 M715.5 351.4 V546.4 M749.5 351.4 V546.4 M782.5 351.4 V546.4" stroke="rgba(38,38,38,0.135)" stroke-width="1" fill="none"/>
<path d="M481.4 507.5 H816.5 M481.4 468.5 H816.5 M481.4 429.5 H816.5 M481.4 390.5 H816.5" stroke="rgba(38,38,38,0.135)" stroke-width="1" fill="none"/>
<path d="M514.5 546.4 v-5.2 M514.5 351.4 v5.2 M548.5 546.4 v-5.2 M548.5 351.4 v5.2 M581.5 546.4 v-5.2 M581.5 351.4 v5.2 M615.5 546.4 v-5.2 M615.5 351.4 v5.2 M648.5 546.4 v-5.2 M648.5 351.4 v5.2 M682.5 546.4 v-5.2 M682.5 351.4 v5.2 M715.5 546.4 v-5.2 M715.5 351.4 v5.2 M749.5 546.4 v-5.2 M749.5 351.4 v5.2 M782.5 546.4 v-5.2 M782.5 351.4 v5.2 M481.4 507.5 h5.2 M816.5 507.5 h-5.2 M481.4 468.5 h5.2 M816.5 468.5 h-5.2 M481.4 429.5 h5.2 M816.5 429.5 h-5.2 M481.4 390.5 h5.2 M816.5 390.5 h-5.2" stroke="#000" stroke-width="1.33" fill="none"/>
<path d="M482.0 545.6 L485.5 543.5 L813.4 543.5" stroke="#0000ff" stroke-width="3" fill="none" stroke-linejoin="round"/>
<path d="M483.8 484.4 L813.4 484.4" stroke="#000000" stroke-width="1.33" fill="none" stroke-linejoin="round"/>
<path d="M483.6 421.4 L813.4 421.4" stroke="#000000" stroke-width="1.33" fill="none" stroke-linejoin="round"/>
<path d="M483.6 367.4 L813.4 367.4" stroke="#000000" stroke-width="1.33" fill="none" stroke-linejoin="round"/>
<path d="M482.0 366.6 L485.0 365.4 L670.0 365.4 L676.5 364.5 L813.4 364.5" stroke="#ff0000" stroke-width="3" fill="none" stroke-linejoin="round"/>
<rect x="481.60" y="351.37" width="335.00" height="195.00" stroke="#000" stroke-width="1.33" fill="none"/>
<text class="t" x="483.4" y="567.7" text-anchor="middle">0</text>
<text class="t" x="517.0" y="567.7" text-anchor="middle">0.05</text>
<text class="t" x="550.5" y="567.7" text-anchor="middle">0.1</text>
<text class="t" x="584.0" y="567.7" text-anchor="middle">0.15</text>
<text class="t" x="617.5" y="567.7" text-anchor="middle">0.2</text>
<text class="t" x="651.0" y="567.7" text-anchor="middle">0.25</text>
<text class="t" x="684.5" y="567.7" text-anchor="middle">0.3</text>
<text class="t" x="718.0" y="567.7" text-anchor="middle">0.35</text>
<text class="t" x="751.5" y="567.7" text-anchor="middle">0.4</text>
<text class="t" x="785.0" y="567.7" text-anchor="middle">0.45</text>
<text class="t" x="818.5" y="567.7" text-anchor="middle">0.5</text>
<text class="t" x="473.1" y="551.3" text-anchor="end">0</text>
<text class="t" x="473.1" y="512.3" text-anchor="end">5</text>
<text class="t" x="473.1" y="473.3" text-anchor="end">10</text>
<text class="t" x="473.1" y="434.3" text-anchor="end">15</text>
<text class="t" x="473.1" y="395.3" text-anchor="end">20</text>
<text class="t" x="473.1" y="356.3" text-anchor="end">25</text>
<text x="648.5" y="330.9" text-anchor="middle" class="b">Concentration in solid in the middle of Cathode</text>
<text class="l" x="648.7" y="593.5" text-anchor="middle">r (µm)</text>
<text class="l" transform="translate(437.7 448.9) rotate(-90)" text-anchor="middle">Concentration (mol/dm<tspan dx="-0.5" dy="-5.8" font-size="10.3">3</tspan><tspan dy="5.8">)</tspan></text>
</svg>
</body></html>
